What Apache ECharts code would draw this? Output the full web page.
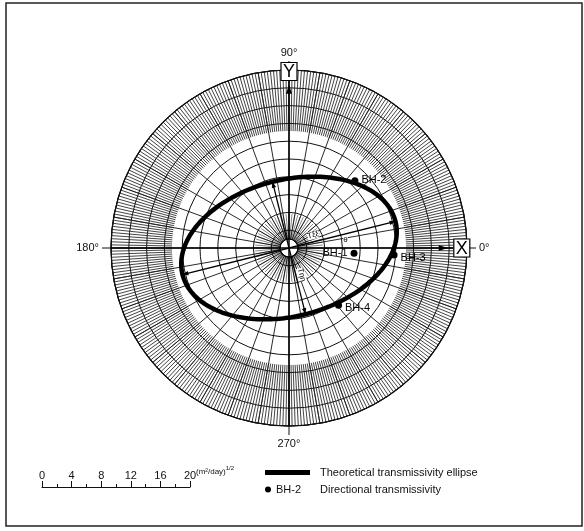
<!DOCTYPE html>
<html><head><meta charset="utf-8">
<script src="https://cdn.jsdelivr.net/npm/echarts@6/dist/echarts.min.js"></script>
<style>html,body{margin:0;padding:0;background:#fff}#c{width:584px;height:531px}</style>
</head><body><div id="c"></div>
<script>
// ---- data ----
const angleTickLabels = [0, 90, 180, 270];          // degrees
const scaleBarTicks = [0, 4, 8, 12, 16, 20];          // (m²/day)^1/2
const boreholes = ['BH-1', 'BH-2', 'BH-3', 'BH-4'];
const bhRadius = [8.8, 12.7, 14.2, 10.2];             // sqrt(T), (m²/day)^1/2
const bhAngle = [355.3, 45.6, 356.2, 310.9];          // degrees
const ellipseSemiMajor = 14.8;                        // sqrt(Tξξ)
const ellipseSemiMinor = 9.2;                         // sqrt(Tηη)
const ellipseTheta = 14;                              // degrees
const axisNames = ['X', 'Y'];
const axisAngles = [0, 90];
const axisArrowR = [21.4, 22.0];
const axisBoxR = [23.3, 23.8];
const annoText = ['Tξξ', 'θ', 'Tηη'];
const annoR = [3.7, 7.7, 4.0];
const annoAngle = [28, 8, 295];
const annoRot = [14, 0, -76];

// ---- build ----
const RMAX = 24;
const C = [289, 248], R = 178;
const FONT = 'Liberation Sans';

const ellipsePts = [];
for (let t = 0; t <= 360; t += 2) {
  const d = (t - ellipseTheta) * Math.PI / 180;
  const a = ellipseSemiMajor, b = ellipseSemiMinor;
  const r = a * b / Math.sqrt(Math.pow(b * Math.cos(d), 2) + Math.pow(a * Math.sin(d), 2));
  ellipsePts.push([r, t]);
}

const labelPlace = {
  'BH-1': {position: 'left', distance: 3, offset: [0, 0]},
  'BH-2': {position: 'right', distance: 3, offset: [0, -1]},
  'BH-3': {position: 'right', distance: 3, offset: [0, 3]},
  'BH-4': {position: 'right', distance: 3, offset: [0, 3]}
};

function arrowHead(tip, ang, L, W) {
  const rad = ang * Math.PI / 180;
  const ux = Math.cos(rad), uy = -Math.sin(rad);
  return [tip,
    [tip[0] - ux * L - uy * W, tip[1] - uy * L + ux * W],
    [tip[0] - ux * L + uy * W, tip[1] - uy * L - ux * W]];
}

const polars = [
  {center: C, radius: [0, R]},     // 0: data + rings
  {center: C, radius: [9, R]},     // 1: 10° radial lines
  {center: C, radius: [117, R]},   // 2: dense hatch band
  {center: C, radius: [9, 34]},    // 3: centre fan
  {center: C, radius: [0, R]}      // 4: angle ticks + labels
];

const hidden = {axisLine: {show: false}, axisTick: {show: false}, axisLabel: {show: false}, splitLine: {show: false}, splitArea: {show: false}};

const angleAxes = [
  Object.assign({}, hidden, {polarIndex: 0, type: 'value', min: 0, max: 360, startAngle: 0, clockwise: false, interval: 90,
    axisLine: {show: true, lineStyle: {color: '#111', width: 1.2}}}),
  Object.assign({}, hidden, {polarIndex: 1, type: 'value', min: 0, max: 360, startAngle: 0, clockwise: false, interval: 10,
    splitLine: {show: true, lineStyle: {color: '#111', width: 0.9}}}),
  Object.assign({}, hidden, {polarIndex: 2, type: 'value', min: 0, max: 360, startAngle: 0, clockwise: false, interval: 1,
    splitLine: {show: true, lineStyle: {color: '#222', width: 0.85}}}),
  Object.assign({}, hidden, {polarIndex: 3, type: 'value', min: 0, max: 360, startAngle: 0, clockwise: false, interval: 5,
    splitLine: {show: true, lineStyle: {color: '#111', width: 0.5}}}),
  Object.assign({}, hidden, {polarIndex: 4, type: 'value', min: 0, max: 360, startAngle: 0, clockwise: false, interval: 90,
    axisTick: {show: true, length: 9, lineStyle: {color: '#111', width: 1}},
    axisLabel: {show: true, margin: 12, fontSize: 11, fontFamily: FONT, color: '#111',
      formatter: v => angleTickLabels.indexOf(v) >= 0 ? v + '°' : ''}})
];

const radiusAxes = [
  Object.assign({}, hidden, {polarIndex: 0, type: 'value', min: 0, max: RMAX, interval: 2.4,
    splitLine: {show: true, lineStyle: {color: '#111', width: 1}}}),
  Object.assign({}, hidden, {polarIndex: 1, type: 'value', min: 0, max: 1, interval: 1,
    splitLine: {show: true, lineStyle: {color: '#111', width: 1}}}),
  Object.assign({}, hidden, {polarIndex: 2, type: 'value', min: 0, max: 1, interval: 1}),
  Object.assign({}, hidden, {polarIndex: 3, type: 'value', min: 0, max: 1, interval: 1}),
  Object.assign({}, hidden, {polarIndex: 4, type: 'value', min: 0, max: 1, interval: 1})
];

const option = {
  animation: false,
  backgroundColor: '#fff',
  textStyle: {fontFamily: FONT},
  polar: polars,
  angleAxis: angleAxes,
  radiusAxis: radiusAxes,
  grid: {left: 42, width: 148, top: 487, height: 1},
  xAxis: {type: 'value', min: 0, max: 20, interval: 4, position: 'top',
    axisLine: {show: true, onZero: false, lineStyle: {color: '#111', width: 1}},
    axisTick: {show: true, length: 6, lineStyle: {color: '#111'}},
    minorTick: {show: true, splitNumber: 2, length: 3, lineStyle: {color: '#111'}},
    splitLine: {show: false},
    axisLabel: {margin: 6, fontSize: 11, fontFamily: FONT, color: '#111',
      formatter: v => scaleBarTicks.indexOf(v) >= 0 ? String(v) : ''}},
  yAxis: {type: 'value', show: false, min: 0, max: 1},
  legend: [
    {left: 265, top: 467, padding: 0, itemWidth: 45, itemHeight: 5, icon: 'rect', selectedMode: false,
      data: ['Theoretical transmissivity ellipse'],
      textStyle: {fontSize: 11, fontFamily: FONT, color: '#111', padding: [0, 0, 0, 5]}},
    {left: 265, top: 484, padding: 0, itemWidth: 6, itemHeight: 6, icon: 'circle', selectedMode: false,
      data: ['Directional transmissivity'],
      formatter: n => '{a|BH-2}{b|' + n + '}',
      textStyle: {fontSize: 11, fontFamily: FONT, color: '#111',
        rich: {a: {width: 44, fontSize: 11, fontFamily: FONT, color: '#111'}, b: {fontSize: 11, fontFamily: FONT, color: '#111'}}}}
  ],
  graphic: [
    {type: 'rect', shape: {x: 6, y: 3, width: 576, height: 523}, style: {fill: 'none', stroke: '#222', lineWidth: 1.5}, silent: true},
    {type: 'text', left: 196, top: 465, silent: true,
      style: {text: '{n|(m²/day)}{s|1/2}', rich: {
        n: {fontSize: 8, fontFamily: FONT, fill: '#111', lineHeight: 11, verticalAlign: 'bottom'},
        s: {fontSize: 6, fontFamily: FONT, fill: '#111', lineHeight: 11, verticalAlign: 'top'}}}}
  ],
  series: [
    { // main X/Y axes with arrows and boxed labels
      type: 'custom', coordinateSystem: 'polar', polarIndex: 0, z: 3, silent: true,
      data: axisNames.map((n, i) => [axisArrowR[i], axisAngles[i], axisBoxR[i]]),
      renderItem: function (params, api) {
        const ang = api.value(1);
        const tip = api.coord([api.value(0), ang]);
        const box = api.coord([api.value(2), ang]);
        const p1 = api.coord([RMAX, ang]);
        const p2 = api.coord([RMAX, ang + 180]);
        return {type: 'group', children: [
          {type: 'line', shape: {x1: p1[0], y1: p1[1], x2: p2[0], y2: p2[1]}, style: {stroke: '#000', lineWidth: 1.5}},
          {type: 'polygon', shape: {points: arrowHead(tip, ang, 9, 3)}, style: {fill: '#000'}},
          {type: 'rect', shape: {x: box[0] - 8, y: box[1] - 9, width: 16, height: 18}, style: {fill: '#fff', stroke: '#000', lineWidth: 1.2}},
          {type: 'text', style: {text: axisNames[params.dataIndex], x: box[0], y: box[1] + 1, align: 'center', verticalAlign: 'middle',
            fontSize: 18, fontFamily: FONT, fill: '#000'}}
        ]};
      }
    },
    { // centre circle
      type: 'custom', coordinateSystem: 'polar', polarIndex: 0, z: 3, silent: true,
      data: [[0, 0]],
      renderItem: function (params, api) {
        const c = api.coord([0, 0]);
        return {type: 'circle', shape: {cx: c[0], cy: c[1], r: 9}, style: {fill: 'none', stroke: '#000', lineWidth: 1.2}};
      }
    },
    { // principal axes of the ellipse
      type: 'custom', coordinateSystem: 'polar', polarIndex: 0, z: 4, silent: true,
      data: [[ellipseSemiMajor, ellipseTheta], [ellipseSemiMajor, ellipseTheta + 180],
             [ellipseSemiMinor, ellipseTheta + 90], [ellipseSemiMinor, ellipseTheta + 270]],
      renderItem: function (params, api) {
        const ang = api.value(1);
        const c = api.coord([0, ang]);
        const tip = api.coord([api.value(0), ang]);
        return {type: 'group', children: [
          {type: 'line', shape: {x1: c[0], y1: c[1], x2: tip[0], y2: tip[1]}, style: {stroke: '#000', lineWidth: 1.3}},
          {type: 'polygon', shape: {points: arrowHead(tip, ang, 6, 2.2)}, style: {fill: '#000'}}
        ]};
      }
    },
    { // small annotations
      type: 'custom', coordinateSystem: 'polar', polarIndex: 0, z: 5, silent: true,
      data: annoText.map((t, i) => [annoR[i], annoAngle[i]]),
      renderItem: function (params, api) {
        const p = api.coord([api.value(0), api.value(1)]);
        return {type: 'text', x: p[0], y: p[1], rotation: annoRot[params.dataIndex] * Math.PI / 180,
          style: {text: annoText[params.dataIndex], align: 'center', verticalAlign: 'middle', fontSize: 8, fontFamily: FONT,
            fill: '#000', backgroundColor: '#fff'}};
      }
    },
    {
      name: 'Theoretical transmissivity ellipse',
      type: 'line', coordinateSystem: 'polar', polarIndex: 0, z: 6,
      data: ellipsePts, symbol: 'none', smooth: false, silent: true,
      itemStyle: {color: '#000'},
      lineStyle: {color: '#000', width: 4.5}
    },
    {
      name: 'Directional transmissivity',
      type: 'scatter', coordinateSystem: 'polar', polarIndex: 0, z: 7, silent: true,
      symbol: 'circle', symbolSize: 7,
      itemStyle: {color: '#000', opacity: 1},
      data: boreholes.map((n, i) => ({name: n, value: [bhRadius[i], bhAngle[i]],
        label: Object.assign({show: true, formatter: '{b}', fontSize: 11, fontFamily: FONT, color: '#000'}, labelPlace[n])}))
    }
  ]
};

const chart = echarts.init(document.getElementById('c'), null, {renderer: 'canvas'});
chart.setOption(option);
</script>
</body></html>
